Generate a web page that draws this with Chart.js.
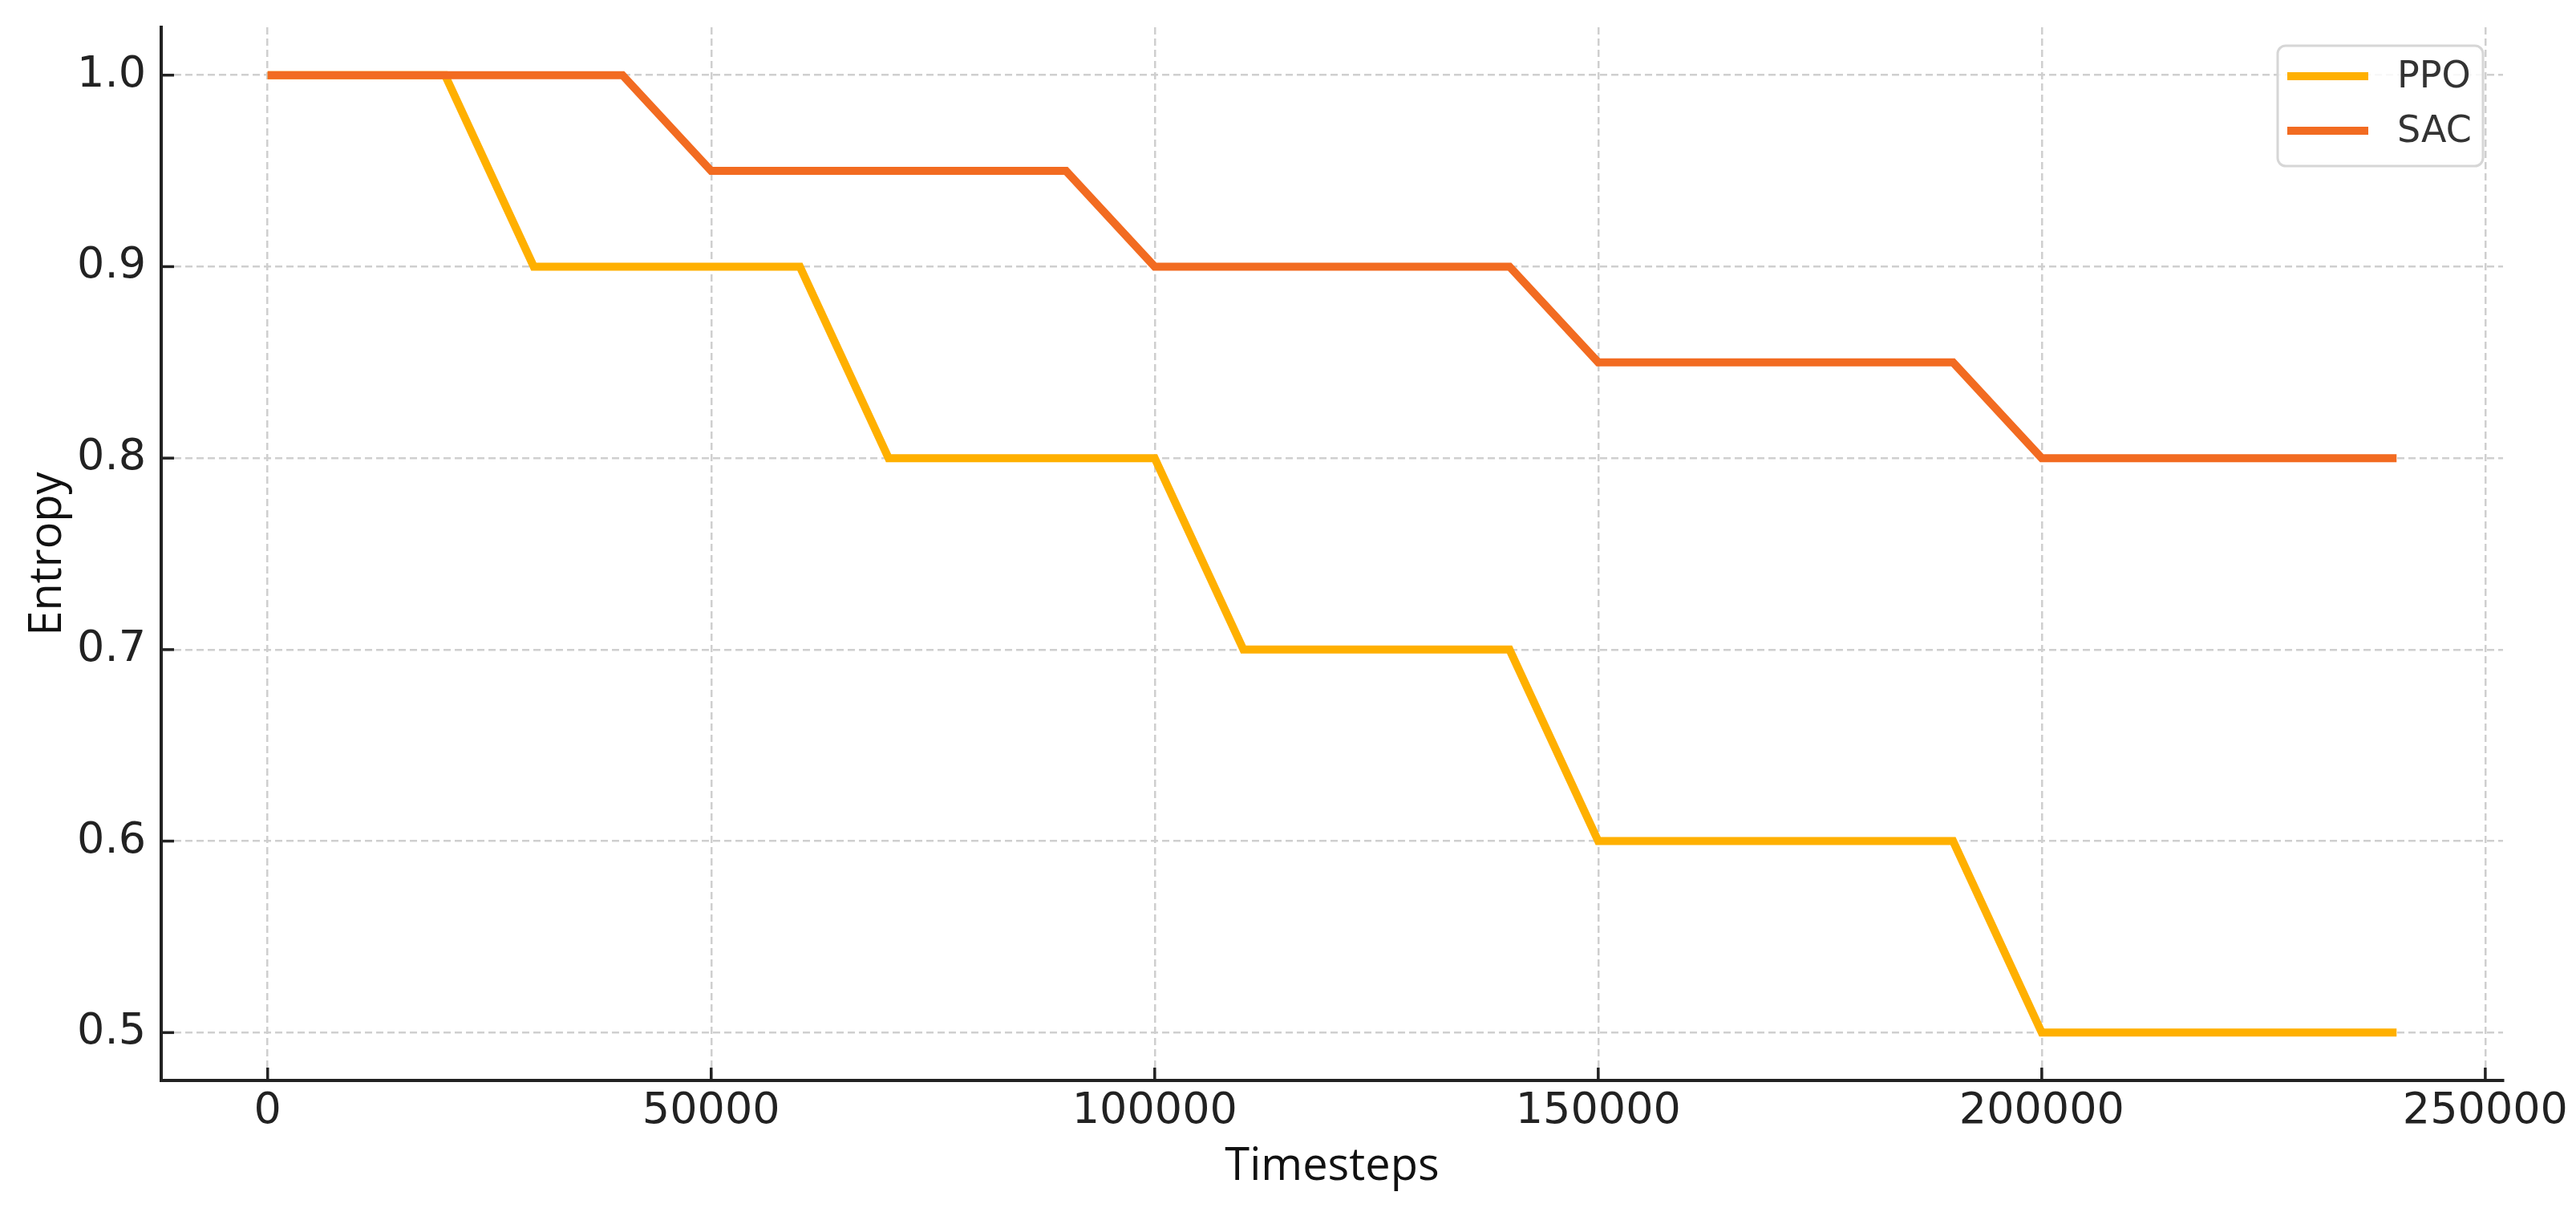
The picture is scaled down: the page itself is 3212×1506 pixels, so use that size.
<!DOCTYPE html>
<html>
<head>
<meta charset="utf-8">
<title>Entropy</title>
<script src="https://cdn.jsdelivr.net/npm/chart.js@4.4.1/dist/chart.umd.min.js"></script>
<style>
    html, body { margin: 0; padding: 0; background: #fff; }
    canvas { display: block; }
</style>
</head>
<body>
<canvas id="entropyChart" width="3212" height="1506"></canvas>
<script>
// Entropy coefficient schedule
const timesteps = [0, 10000, 20000, 30000, 40000, 50000, 60000, 70000, 80000, 90000,
    100000, 110000, 120000, 130000, 140000, 150000, 160000, 170000, 180000, 190000,
    200000, 210000, 220000, 230000, 240000];
const ppoEntropy = [1.0, 1.0, 1.0, 0.9, 0.9, 0.9, 0.9, 0.8, 0.8, 0.8,
    0.8, 0.7, 0.7, 0.7, 0.7, 0.6, 0.6, 0.6, 0.6, 0.6,
    0.5, 0.5, 0.5, 0.5, 0.5];
const sacEntropy = [1.0, 1.0, 1.0, 1.0, 1.0, 0.95, 0.95, 0.95, 0.95, 0.95,
    0.9, 0.9, 0.9, 0.9, 0.9, 0.85, 0.85, 0.85, 0.85, 0.85,
    0.8, 0.8, 0.8, 0.8, 0.8];
const xTicks = [0, 50000, 100000, 150000, 200000, 250000];
const yTicks = [0.5, 0.6, 0.7, 0.8, 0.9, 1.0];

const AXIS_COLOR = '#222222';
const GRID_COLOR = '#cfcfcf';

const toPoints = (ys) => timesteps.map((t, i) => ({ x: t, y: ys[i] }));

// matplotlib style ticks pointing into the plot
const inwardTicks = {
    id: 'inwardTicks',
    afterDatasetsDraw(chart) {
        const { ctx, chartArea, scales } = chart;
        ctx.save();
        ctx.strokeStyle = AXIS_COLOR;
        ctx.lineWidth = 3.5;
        scales.x.ticks.forEach((t, i) => {
            const px = scales.x.getPixelForTick(i);
            ctx.beginPath();
            ctx.moveTo(px, chartArea.bottom);
            ctx.lineTo(px, chartArea.bottom - 16);
            ctx.stroke();
        });
        scales.y.ticks.forEach((t, i) => {
            const py = scales.y.getPixelForTick(i);
            ctx.beginPath();
            ctx.moveTo(chartArea.left, py);
            ctx.lineTo(chartArea.left + 16, py);
            ctx.stroke();
        });
        ctx.restore();
    }
};

// framed legend in the upper right corner of the plot
const legendBox = {
    id: 'legendBox',
    afterDatasetsDraw(chart) {
        const { ctx, chartArea } = chart;
        const w = 256, h = 150;
        const x = chartArea.right - 25 - w;
        const y = chartArea.top + 23;
        ctx.save();
        ctx.beginPath();
        ctx.roundRect(x, y, w, h, 10);
        ctx.fillStyle = 'rgba(255, 255, 255, 0.85)';
        ctx.fill();
        ctx.lineWidth = 3;
        ctx.strokeStyle = '#d6d6d6';
        ctx.stroke();
        chart.data.datasets.forEach((ds, i) => {
            const cy = y + 38 + i * 68;
            ctx.beginPath();
            ctx.moveTo(x + 12, cy);
            ctx.lineTo(x + 113, cy);
            ctx.lineWidth = 10;
            ctx.strokeStyle = ds.borderColor;
            ctx.stroke();
            ctx.fillStyle = '#333333';
            ctx.font = '46px "DejaVu Sans"';
            ctx.textBaseline = 'middle';
            ctx.fillText(ds.label, x + 149, cy + 2);
        });
        ctx.restore();
    }
};

new Chart(document.getElementById('entropyChart'), {
    type: 'line',
    data: {
        datasets: [
            {
                label: 'PPO',
                data: toPoints(ppoEntropy),
                borderColor: '#ffb000',
                backgroundColor: '#ffb000',
                borderWidth: 10,
                pointRadius: 0,
                tension: 0,
                order: 1
            },
            {
                label: 'SAC',
                data: toPoints(sacEntropy),
                borderColor: '#f26b21',
                backgroundColor: '#f26b21',
                borderWidth: 10,
                pointRadius: 0,
                tension: 0,
                order: 0
            }
        ]
    },
    options: {
        responsive: false,
        animation: false,
        layout: {
            padding: { left: 0, right: 91, top: 34, bottom: 0 }
        },
        plugins: {
            legend: { display: false },
            tooltip: { enabled: false }
        },
        scales: {
            x: {
                type: 'linear',
                min: -12000,
                max: 252000,
                afterBuildTicks: (s) => { s.ticks = xTicks.map(v => ({ value: v })); },
                afterFit: (s) => {
                    s.height = 159;
                    s.paddingLeft = 0;
                    s.paddingRight = 0;
                },
                ticks: {
                    padding: 7,
                    color: AXIS_COLOR,
                    font: { family: 'DejaVu Sans', size: 54 },
                    maxRotation: 0,
                    autoSkip: false,
                    callback: (v) => String(Math.round(v))
                },
                grid: {
                    color: GRID_COLOR,
                    lineWidth: 2.5,
                    drawTicks: false
                },
                border: {
                    color: AXIS_COLOR,
                    width: 4,
                    dash: [9, 5]
                },
                title: {
                    display: true,
                    text: 'Timesteps',
                    color: '#111111',
                    font: { family: 'Open Sans', size: 56 },
                    padding: { top: 0, bottom: 17 }
                }
            },
            y: {
                type: 'linear',
                min: 0.475,
                max: 1.025,
                afterBuildTicks: (s) => { s.ticks = yTicks.map(v => ({ value: v })); },
                afterFit: (s) => {
                    s.width = 201;
                    s.paddingTop = 0;
                    s.paddingBottom = 0;
                },
                ticks: {
                    padding: 19,
                    color: AXIS_COLOR,
                    font: { family: 'DejaVu Sans', size: 54 },
                    autoSkip: false,
                    callback: (v) => Number(v).toFixed(1)
                },
                grid: {
                    color: GRID_COLOR,
                    lineWidth: 2.5,
                    drawTicks: false
                },
                border: {
                    color: AXIS_COLOR,
                    width: 4,
                    dash: [9, 5]
                },
                title: {
                    display: true,
                    text: 'Entropy',
                    color: '#111111',
                    font: { family: 'Open Sans', size: 56 },
                    padding: { top: 26, bottom: 0 }
                }
            }
        }
    },
    plugins: [inwardTicks, legendBox]
});
</script>
</body>
</html>
